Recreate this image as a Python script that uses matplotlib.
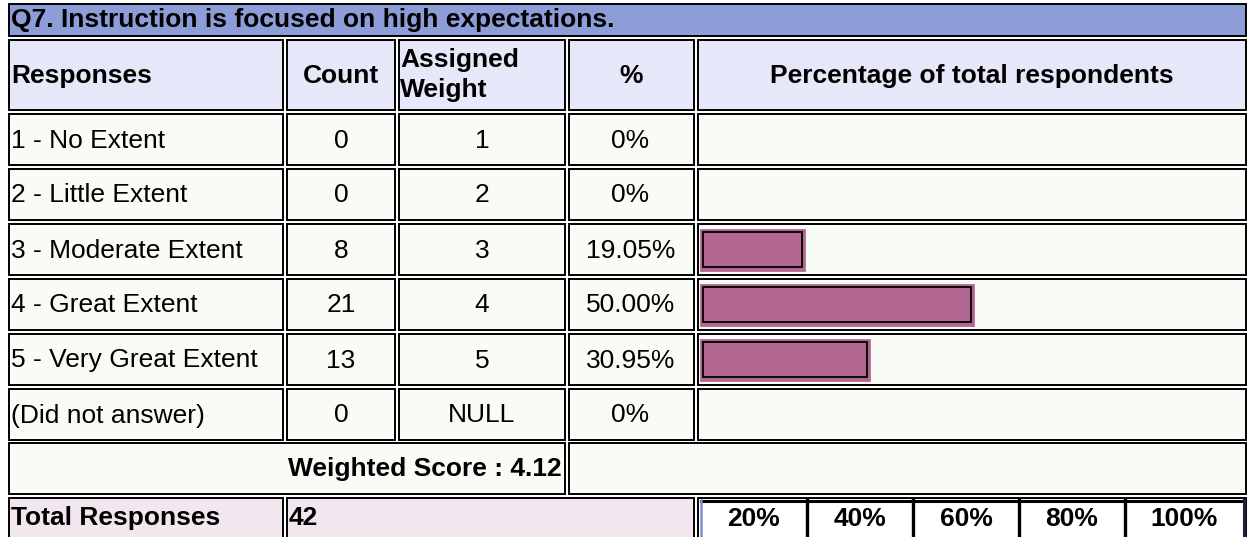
import matplotlib
matplotlib.use('Agg')
import matplotlib.pyplot as plt
from matplotlib.patches import Rectangle

question = 'Q7. Instruction is focused on high expectations.'
headers = ['Responses', 'Count', 'Assigned\nWeight', '%', 'Percentage of total respondents']
responses = ['1 - No Extent', '2 - Little Extent', '3 - Moderate Extent',
             '4 - Great Extent', '5 - Very Great Extent', '(Did not answer)']
counts = [0, 0, 8, 21, 13, 0]
weights = ['1', '2', '3', '4', '5', 'NULL']
pct_labels = ['0%', '0%', '19.05%', '50.00%', '30.95%', '0%']
pct_values = [0, 0, 19.05, 50.00, 30.95, 0]
weighted_score = 4.12
total_responses = 42
scale_labels = ['20%', '40%', '60%', '80%', '100%']

plt.rcParams['font.family'] = ['Liberation Sans', 'DejaVu Sans']
FS = 19

TITLE_BG = '#8c9dd7'
HEAD_BG = '#e6e8f9'
ROW_BG = '#f9fbf6'
TOTAL_BG = '#f3e7ef'
BAR = '#b1678f'

fig = plt.figure(figsize=(12.48, 5.37), dpi=100)
ax = fig.add_axes([0, 0, 1, 1])
ax.set_xlim(0, 1248)
ax.set_ylim(537, 0)
ax.axis('off')

# column edges (pixels), small white gap between neighbouring cells
cols = [(9, 283), (287, 395), (399, 565), (569, 694), (698, 1246)]


def cell(x0, x1, y0, y1, fc, ec='black', lw=1.4):
    ax.add_patch(Rectangle((x0, y0), x1 - x0, y1 - y0, facecolor=fc,
                           edgecolor=ec, linewidth=lw, zorder=1))


# title
cell(9, 1246, 4, 36, TITLE_BG)
ax.text(11, 20, question, fontsize=FS, fontweight='bold', va='center', ha='left')

# header
hy0, hy1 = 40, 110
for x0, x1 in cols:
    cell(x0, x1, hy0, hy1, HEAD_BG)
ax.text(11, 76, headers[0], fontsize=FS, fontweight='bold', va='center')
ax.text(sum(cols[1]) / 2, 76, headers[1], fontsize=FS, fontweight='bold', va='center', ha='center')
ax.text(400, 75, headers[2], fontsize=FS, fontweight='bold', va='center', ha='left', linespacing=1.3)
ax.text(sum(cols[3]) / 2, 76, headers[3], fontsize=FS, fontweight='bold', va='center', ha='center')
ax.text(sum(cols[4]) / 2, 76, headers[4], fontsize=FS, fontweight='bold', va='center', ha='center')

# data rows
row_h = 51
tops = [114 + 55 * i for i in range(len(responses))]
centers = [t + row_h / 2 for t in tops]
for t, c, r, n, w, p in zip(tops, centers, responses, counts, weights, pct_labels):
    for x0, x1 in cols:
        cell(x0, x1, t, t + row_h, ROW_BG)
    ax.text(11, c + 1, r, fontsize=FS, va='center', ha='left')
    ax.text(sum(cols[1]) / 2, c + 1, str(n), fontsize=FS, va='center', ha='center')
    ax.text(sum(cols[2]) / 2, c + 1, w, fontsize=FS, va='center', ha='center')
    ax.text(sum(cols[3]) / 2 - 1, c + 1, p, fontsize=FS, va='center', ha='center')

# bars: 100% spans the full percentage cell
bar_left = 700.5
bar_full = 545
widths = [v / 100 * bar_full for v in pct_values]
shown = [i for i, v in enumerate(pct_values) if v > 0]
ax.barh([centers[i] for i in shown], [widths[i] for i in shown], left=bar_left,
        height=40, color=BAR, edgecolor=BAR, linewidth=2, zorder=2)
ax.barh([centers[i] for i in shown], [widths[i] - 4 for i in shown], left=bar_left + 2,
        height=35, fill=False, edgecolor='black', linewidth=1.3, zorder=3)

# weighted score row
wy0 = 443
cell(9, 565, wy0, wy0 + 51, ROW_BG)
cell(569, 1246, wy0, wy0 + 51, ROW_BG)
ax.text(562, wy0 + 26, 'Weighted Score : %.2f' % weighted_score, fontsize=FS,
        fontweight='bold', va='center', ha='right')

# total row
ty0 = 498
cell(9, 283, ty0, 545, TOTAL_BG)
cell(287, 694, ty0, 545, TOTAL_BG)
cell(698, 1246, ty0, 545, 'white')
ax.text(11, ty0 + 20, 'Total Responses', fontsize=FS, fontweight='bold', va='center')
ax.text(289, ty0 + 20, str(total_responses), fontsize=FS, fontweight='bold', va='center')

# percentage scale
edges = [701, 807, 913, 1019, 1125, 1244]
ax.plot([701, 1244], [500.5, 500.5], color='black', linewidth=2.2, zorder=4)
ax.plot([701, 701], [500, 540], color='#7f8fd0', linewidth=1.8, zorder=4)
ax.plot([1244, 1244], [500, 540], color='#202040', linewidth=2.2, zorder=4)
for x in edges[1:-1]:
    ax.plot([x, x], [500, 540], color='black', linewidth=2.4, zorder=4)
for lab, a, b in zip(scale_labels, edges[:-1], edges[1:]):
    ax.text((a + b) / 2, 519, lab, fontsize=FS, fontweight='bold', va='center', ha='center')

fig.savefig('out.png', dpi=100)
